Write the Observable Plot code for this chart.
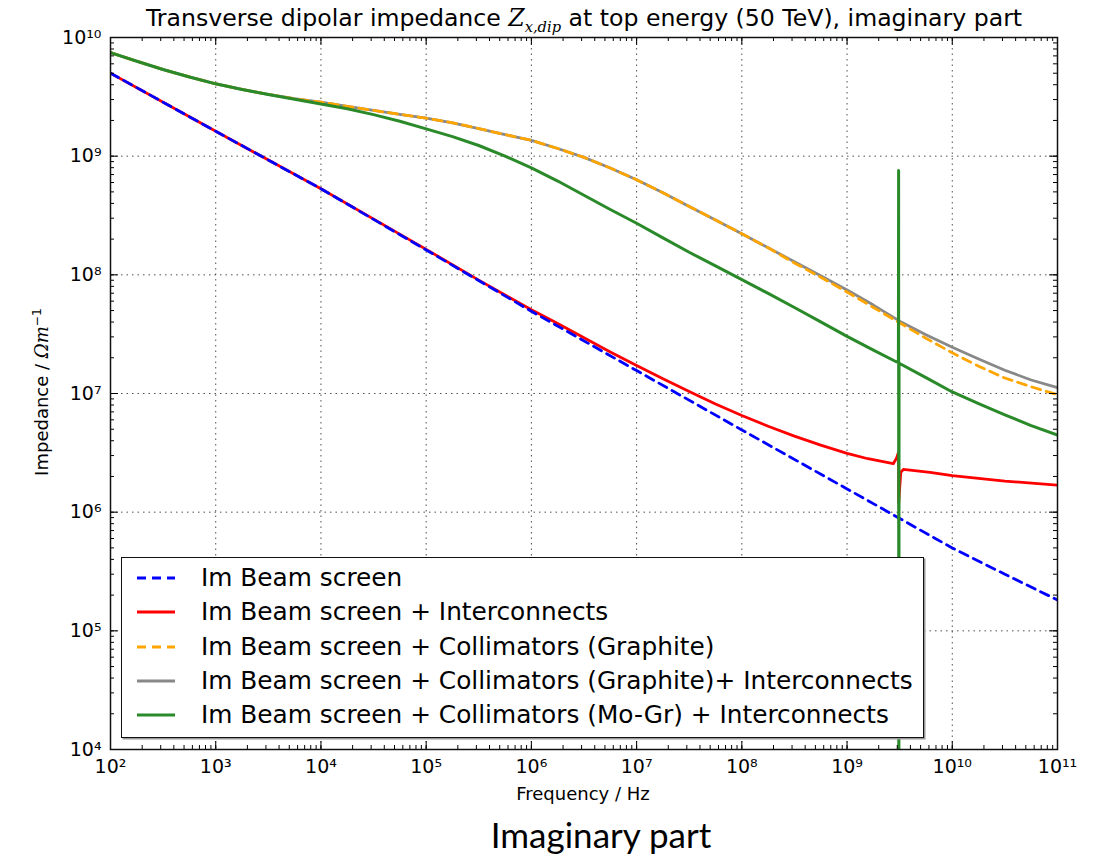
<!DOCTYPE html>
<html>
<head>
<meta charset="utf-8">
<script src="https://cdn.jsdelivr.net/npm/d3@7"></script>
<script src="https://cdn.jsdelivr.net/npm/@observablehq/plot@0.6"></script>
<style>
  html, body { margin: 0; padding: 0; background: #fff; }
  #wrap { position: relative; width: 1099px; height: 857px; background: #fff; font-family: "DejaVu Sans", sans-serif; color: #000; }
  #chart { position: absolute; left: 0; top: 0; }
  .abs { position: absolute; white-space: nowrap; }
  #title { left: 84px; top: 4px; width: 1000px; text-align: center; font-size: 23.6px; line-height: 28px; }
  #ylabel { left: -113px; top: 380px; width: 300px; text-align: center; font-size: 18px; line-height: 24px; transform: rotate(-90deg); transform-origin: 150px 12px; }
  #xlabel { left: 383px; top: 783px; width: 400px; text-align: center; font-size: 18px; line-height: 22px; }
  #caption { left: 401px; top: 813px; width: 400px; text-align: center; font-family: Lato, sans-serif; font-size: 35px; line-height: 42px; }
  .math { font-family: "DejaVu Serif", serif; font-style: italic; }
  #legend { left: 121px; top: 557px; width: 801px; height: 179px; border: 1.5px solid #111; background: #fff; box-shadow: 1.5px 1.5px 0 #999; }
  .row { position: absolute; left: 0; height: 30px; font-size: 24.8px; line-height: 30px; }
  .row svg { position: absolute; left: 14px; top: 11px; }
  .row span { position: absolute; left: 79px; top: 0; white-space: nowrap; }
</style>
</head>
<body>
<div id="wrap">
  <div id="chart"></div>
  <div id="title" class="abs">Transverse dipolar impedance <span class="math">Z</span><sub class="math" style="font-size:0.62em">x,dip</sub> at top energy (50 TeV), imaginary part</div>
  <div id="ylabel" class="abs">Impedance / <span class="math">Ωm</span><sup style="font-size:0.68em">−1</sup></div>
  <div id="xlabel" class="abs">Frequency / Hz</div>
  <div id="legend" class="abs"></div>
  <div id="caption" class="abs">Imaginary part</div>
</div>
<script>
// ---------- data ----------
const xTickValues = [1e2, 1e3, 1e4, 1e5, 1e6, 1e7, 1e8, 1e9, 1e10, 1e11];
const yTickValues = [1e4, 1e5, 1e6, 1e7, 1e8, 1e9, 1e10];

const seriesNames = [
  "Im Beam screen",
  "Im Beam screen + Interconnects",
  "Im Beam screen + Collimators (Graphite)",
  "Im Beam screen + Collimators (Graphite)+ Interconnects",
  "Im Beam screen + Collimators (Mo-Gr) + Interconnects"
];

// Im Beam screen (blue dashed)
const freqBlue = [1e2, 1e3, 1e4, 1e5, 1e6, 1e7, 1e8, 1e9, 1e10, 3.16e10, 1e11];
const zBlue    = [5.01e9, 1.62e9, 5.31e8, 1.62e8, 4.93e7, 1.56e7, 4.93e6, 1.57e6, 4.99e5, 3.0e5, 1.82e5];

// Im Beam screen + Interconnects (red)
const freqRed = [1e2, 1e3, 1e4, 1e5, 3.16e5, 5.62e5, 1e6, 1.78e6, 3.16e6, 5.62e6, 1e7, 1.78e7, 3.16e7, 5.62e7, 1e8, 1.78e8, 3.16e8, 5.62e8, 1e9, 1.58e9, 2.75e9, 2.95e9, 3.088e9, 3.095e9, 3.24e9, 3.43e9, 6.15e9, 1e10, 3.16e10, 1e11];
const zRed    = [5.01e9, 1.62e9, 5.31e8, 1.64e8, 9.02e7, 6.76e7, 5.07e7, 3.89e7, 2.95e7, 2.24e7, 1.72e7, 1.33e7, 1.04e7, 8.17e6, 6.52e6, 5.30e6, 4.37e6, 3.67e6, 3.13e6, 2.82e6, 2.56e6, 2.85e6, 3.2e6, 1.2e6, 2.17e6, 2.29e6, 2.16e6, 2.03e6, 1.83e6, 1.69e6];

// common frequency grid (quarter decades) for the graphite collimator curves
const freqQuarter = [1e2, 1.78e2, 3.16e2, 5.62e2, 1e3, 1.78e3, 3.16e3, 5.62e3, 1e4, 1.78e4, 3.16e4, 5.62e4, 1e5, 1.78e5, 3.16e5, 5.62e5, 1e6, 1.78e6, 3.16e6, 5.62e6, 1e7, 1.78e7, 3.16e7, 5.62e7, 1e8, 1.78e8, 3.16e8, 5.62e8, 1e9, 1.78e9, 3.16e9, 5.62e9, 1e10, 1.78e10, 3.16e10, 5.62e10, 1e11];

// Im Beam screen + Collimators (Graphite) (orange dashed)
const zOrange = [7.45e9, 6.31e9, 5.37e9, 4.65e9, 4.07e9, 3.65e9, 3.31e9, 3.05e9, 2.85e9, 2.63e9, 2.43e9, 2.25e9, 2.09e9, 1.91e9, 1.71e9, 1.52e9, 1.36e9, 1.16e9, 9.77e8, 7.94e8, 6.32e8, 4.92e8, 3.77e8, 2.90e8, 2.22e8, 1.69e8, 1.26e8, 9.55e7, 7.16e7, 5.31e7, 3.94e7, 2.92e7, 2.20e7, 1.70e7, 1.35e7, 1.14e7, 9.77e6];

// Im Beam screen + Collimators (Graphite) + Interconnects (grey)
const zGrey   = [7.45e9, 6.31e9, 5.37e9, 4.65e9, 4.07e9, 3.65e9, 3.31e9, 3.05e9, 2.85e9, 2.63e9, 2.43e9, 2.25e9, 2.09e9, 1.91e9, 1.71e9, 1.52e9, 1.36e9, 1.16e9, 9.77e8, 7.94e8, 6.32e8, 4.92e8, 3.77e8, 2.90e8, 2.22e8, 1.69e8, 1.29e8, 9.84e7, 7.46e7, 5.56e7, 4.07e7, 3.13e7, 2.45e7, 1.95e7, 1.57e7, 1.30e7, 1.12e7];

// Im Beam screen + Collimators (Mo-Gr) + Interconnects (green)
const freqGreen = [1e2, 1.78e2, 3.16e2, 5.62e2, 1e3, 1.78e3, 3.16e3, 5.62e3, 1e4, 1.78e4, 3.16e4, 5.62e4, 1e5, 1.78e5, 3.16e5, 5.62e5, 1e6, 1.78e6, 3.16e6, 5.62e6, 1e7, 1.78e7, 3.16e7, 5.62e7, 1e8, 1.78e8, 3.16e8, 5.62e8, 1e9, 1.78e9, 2.9e9, 3.076e9, 3.09e9, 3.105e9, 3.119e9, 3.16e9, 5.62e9, 1e10, 1.78e10, 3.16e10, 5.62e10, 1e11];
const zGreen    = [7.45e9, 6.31e9, 5.37e9, 4.65e9, 4.07e9, 3.65e9, 3.31e9, 3.02e9, 2.75e9, 2.51e9, 2.24e9, 1.97e9, 1.70e9, 1.46e9, 1.23e9, 1.0e9, 7.98e8, 6.17e8, 4.68e8, 3.55e8, 2.72e8, 2.05e8, 1.55e8, 1.19e8, 9.12e7, 6.97e7, 5.30e7, 4.01e7, 3.03e7, 2.32e7, 1.86e7, 1.83e7, 7.57e8, 1e2, 1.82e7, 1.79e7, 1.36e7, 1.03e7, 8.22e6, 6.61e6, 5.37e6, 4.46e6];

// ---------- drawing ----------
const W = 1099, H = 810, mL = 110, mR = 42, mT = 37, mB = 61;
const fw = W - mL - mR, fh = H - mT - mB;
const sup = {"0":"⁰","1":"¹","2":"²","3":"³","4":"⁴","5":"⁵","6":"⁶","7":"⁷","8":"⁸","9":"⁹","-":"⁻"};
const fmt = d => "10" + String(Math.round(Math.log10(d))).split("").map(c => sup[c]).join("");
const rows = (fs, zs) => fs.map((f, i) => ({f, z: zs[i]}));

const xMinor = d3.scaleLog().domain([1e2, 1e11]).ticks();
const yMinor = d3.scaleLog().domain([1e4, 1e10]).ticks();

const colors = ["#0000ff", "#ff0000", "#ffa500", "#888888", "#2a8a2a"];
const dashes = ["9,6", null, "9,6", null, null];
const lw = 2.8;

const gridStyle = {stroke: "#333", strokeDasharray: "1.5,4", strokeWidth: 1, strokeOpacity: 0.85};

const chart = Plot.plot({
  width: W, height: H,
  marginLeft: mL, marginRight: mR, marginTop: mT, marginBottom: mB,
  style: {fontFamily: "DejaVu Sans", fontSize: "19px", background: "white", color: "#000"},
  x: {type: "log", domain: [1e2, 1e11], label: null},
  y: {type: "log", domain: [1e4, 1e10], label: null},
  marks: [
    Plot.gridX(xTickValues.slice(1, -1), gridStyle),
    Plot.gridY(yTickValues.slice(1, -1), gridStyle),
    Plot.line(rows(freqRed, zRed), {x: "f", y: "z", stroke: colors[1], strokeWidth: lw, clip: true}),
    Plot.line(rows(freqBlue, zBlue), {x: "f", y: "z", stroke: colors[0], strokeWidth: lw, strokeDasharray: dashes[0], clip: true}),
    Plot.line(rows(freqQuarter, zGrey), {x: "f", y: "z", stroke: colors[3], strokeWidth: lw, clip: true}),
    Plot.line(rows(freqQuarter, zOrange), {x: "f", y: "z", stroke: colors[2], strokeWidth: lw, strokeDasharray: dashes[2], clip: true}),
    Plot.line(rows(freqGreen, zGreen), {x: "f", y: "z", stroke: colors[4], strokeWidth: 3, clip: true}),
    // inward ticks on all four sides
    Plot.tickX(xMinor, {x: d => d, insetTop: fh - 4, stroke: "#000", strokeWidth: 1}),
    Plot.tickX(xMinor, {x: d => d, insetBottom: fh - 4, stroke: "#000", strokeWidth: 1}),
    Plot.tickX(xTickValues, {x: d => d, insetTop: fh - 8, stroke: "#000", strokeWidth: 1}),
    Plot.tickX(xTickValues, {x: d => d, insetBottom: fh - 8, stroke: "#000", strokeWidth: 1}),
    Plot.tickY(yMinor, {y: d => d, insetRight: fw - 4, stroke: "#000", strokeWidth: 1}),
    Plot.tickY(yMinor, {y: d => d, insetLeft: fw - 4, stroke: "#000", strokeWidth: 1}),
    Plot.tickY(yTickValues, {y: d => d, insetRight: fw - 8, stroke: "#000", strokeWidth: 1}),
    Plot.tickY(yTickValues, {y: d => d, insetLeft: fw - 8, stroke: "#000", strokeWidth: 1}),
    Plot.frame({stroke: "#111", strokeWidth: 1.5}),
    Plot.axisX({ticks: xTickValues, tickSize: 0, tickPadding: 10, tickFormat: fmt, label: null}),
    Plot.axisY({ticks: yTickValues, tickSize: 0, tickPadding: 9, tickFormat: fmt, label: null})
  ]
});
document.getElementById("chart").appendChild(chart);

// legend
const legend = document.getElementById("legend");
[0, 1, 2, 3, 4].forEach((k, i) => {
  const row = document.createElement("div");
  row.className = "row";
  row.style.top = (5 + i * 34.3) + "px";
  row.style.width = "790px";
  const dash = dashes[k] ? `stroke-dasharray="${dashes[k]}"` : "";
  row.innerHTML = `<svg width="40" height="8"><line x1="1" y1="4" x2="39" y2="4" stroke="${colors[k]}" stroke-width="${lw}" ${dash}/></svg><span>${seriesNames[k]}</span>`;
  legend.appendChild(row);
});
</script>
</body>
</html>
